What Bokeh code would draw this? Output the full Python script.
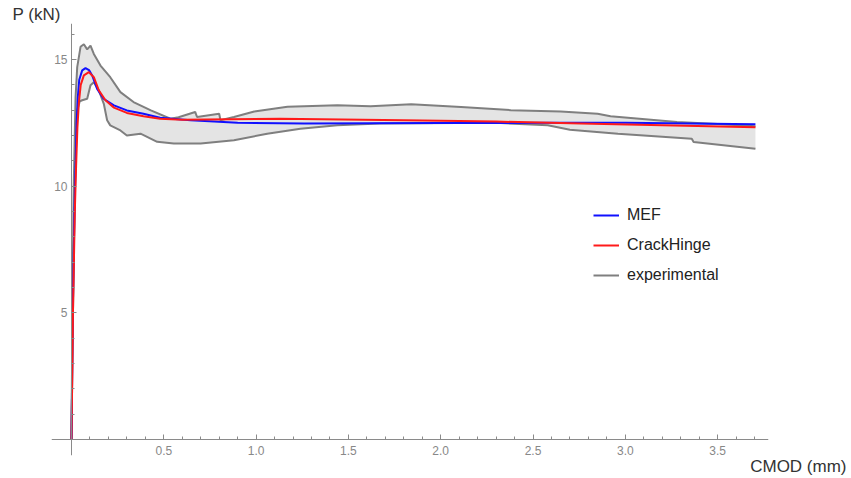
from bokeh.plotting import figure
from bokeh.models import (Range1d, FixedTicker, PrintfTickFormatter, Legend, LegendItem, Title)
from bokeh.embed import file_html
from bokeh.resources import INLINE

# ---- data ----
mef_x = [0, 0.007, 0.016, 0.022, 0.028, 0.034, 0.042, 0.058, 0.076, 0.095, 0.112, 0.139, 0.174,
         0.23, 0.30, 0.39, 0.48, 0.645, 0.9, 1.26, 2.0, 2.6, 3.0, 3.705]
mef_y = [0, 5, 9, 10.8, 12.5, 13.5, 14.2, 14.57, 14.66, 14.58, 14.37, 13.84, 13.45,
         13.19, 12.99, 12.86, 12.7, 12.6, 12.5, 12.47, 12.49, 12.5, 12.5, 12.44]

ch_x = [0, 0.008, 0.018, 0.025, 0.032, 0.04, 0.05, 0.067, 0.094, 0.121, 0.148, 0.184, 0.23,
        0.30, 0.39, 0.48, 0.6, 1.13, 1.8, 2.3, 2.76, 3.2, 3.705]
ch_y = [0, 5, 9, 10.8, 12.3, 13.3, 14.0, 14.37, 14.5, 14.3, 13.78, 13.39, 13.1,
        12.89, 12.76, 12.66, 12.62, 12.66, 12.6, 12.55, 12.47, 12.4, 12.33]

exp_upper_x = [0, 0.005, 0.012, 0.022, 0.031, 0.049, 0.067, 0.085, 0.103, 0.121, 0.157, 0.21,
               0.265, 0.336, 0.43, 0.536, 0.58, 0.67, 0.68, 0.80, 0.807, 0.88, 0.99, 1.17,
               1.44, 1.62, 1.84, 2.11, 2.38, 2.65, 2.85, 2.92, 3.28, 3.5, 3.705]
exp_upper_y = [0, 5, 10, 13.5, 14.7, 15.5, 15.6, 15.4, 15.55, 15.22, 14.76, 14.3,
               13.71, 13.32, 12.99, 12.66, 12.72, 12.93, 12.73, 12.86, 12.6, 12.73, 12.95, 13.13,
               13.19, 13.15, 13.23, 13.12, 13.0, 12.95, 12.86, 12.76, 12.53, 12.45, 12.36]

exp_lower_x = [0, 0.008, 0.018, 0.026, 0.031, 0.045, 0.058, 0.085, 0.103, 0.121, 0.148, 0.175,
               0.193, 0.21, 0.265, 0.30, 0.374, 0.464, 0.554, 0.70, 0.88, 1.06, 1.24, 1.44,
               1.67, 2.3, 2.58, 2.70, 2.96, 3.36, 3.37, 3.705]
exp_lower_y = [0, 5, 10, 12.2, 12.99, 13.35, 13.39, 13.45, 13.98, 14.1, 13.78, 13.25,
               12.6, 12.4, 12.2, 12.0, 12.07, 11.75, 11.68, 11.68, 11.81, 12.07, 12.27, 12.4,
               12.47, 12.5, 12.4, 12.23, 12.07, 11.87, 11.74, 11.48]

x_major = [0.5, 1.0, 1.5, 2.0, 2.5, 3.0, 3.5]
x_minor = [0.1, 0.2, 0.3, 0.4, 0.6, 0.7, 0.8, 0.9, 1.1, 1.2, 1.3, 1.4, 1.6, 1.7, 1.8, 1.9,
           2.1, 2.2, 2.3, 2.4, 2.6, 2.7, 2.8, 2.9, 3.1, 3.2, 3.3, 3.4, 3.6, 3.7]
y_major = [5, 10, 15]
y_minor = [1, 2, 3, 4, 6, 7, 8, 9, 11, 12, 13, 14, 16]

FONT = "Liberation Sans"
AXIS_GREY = "#8a8a8a"

p = figure(width=848, height=476, output_backend="svg", toolbar_location=None,
           x_range=Range1d(-0.1083, 3.7757), y_range=Range1d(-0.63, 16.42),
           min_border_left=51, min_border_right=80, min_border_top=23, min_border_bottom=20)
p.outline_line_color = None
p.grid.visible = False
p.background_fill_color = "white"

# experimental band
band_x = exp_upper_x + exp_lower_x[::-1]
band_y = exp_upper_y + exp_lower_y[::-1]
p.patch(band_x, band_y, fill_color="#e4e4e4", line_color=None)
r_exp = p.line(exp_upper_x, exp_upper_y, line_color="#7f7f7f", line_width=2)
p.line(exp_lower_x, exp_lower_y, line_color="#7f7f7f", line_width=2)

r_mef = p.line(mef_x, mef_y, line_color="#1010ff", line_width=2)
r_ch = p.line(ch_x, ch_y, line_color="#ff1a1a", line_width=2)

# axes crossing at origin
for ax in (p.xaxis[0], p.yaxis[0]):
    ax.fixed_location = 0
    ax.axis_line_color = AXIS_GREY
    ax.major_tick_line_color = AXIS_GREY
    ax.minor_tick_line_color = AXIS_GREY
    ax.major_tick_in = 5
    ax.major_tick_out = 0
    ax.minor_tick_in = 3
    ax.minor_tick_out = 0
    ax.major_label_text_color = "#888888"
    ax.major_label_text_font = FONT
    ax.major_label_text_font_size = "12px"

p.xaxis[0].major_label_standoff = 6
p.yaxis[0].major_label_standoff = 4
p.xaxis[0].ticker = FixedTicker(ticks=x_major, minor_ticks=x_minor)
p.xaxis[0].formatter = PrintfTickFormatter(format="%.1f")
p.yaxis[0].ticker = FixedTicker(ticks=y_major, minor_ticks=y_minor)
p.yaxis[0].formatter = PrintfTickFormatter(format="%d")

# axis titles (Mathematica style)
p.add_layout(Title(text="P (kN)", align="left", offset=-39, standoff=0, vertical_align="bottom",
                   text_font=FONT, text_font_size="17px", text_font_style="normal",
                   text_color="#333333"), "above")
p.add_layout(Title(text="CMOD (mm)", align="right", offset=-78, standoff=0, vertical_align="middle",
                   text_font=FONT, text_font_size="17px", text_font_style="normal",
                   text_color="#333333"), "below")

legend = Legend(items=[LegendItem(label="MEF", renderers=[r_mef]),
                       LegendItem(label="CrackHinge", renderers=[r_ch]),
                       LegendItem(label="experimental", renderers=[r_exp])],
                location=(542, 170), padding=0, margin=0, spacing=10,
                glyph_width=26, glyph_height=20, label_height=20, label_standoff=8,
                label_text_font=FONT, label_text_font_size="16px", label_text_color="#222222",
                border_line_alpha=0, background_fill_alpha=0)
p.add_layout(legend)

open("out.html", "w").write(file_html(p, INLINE))
